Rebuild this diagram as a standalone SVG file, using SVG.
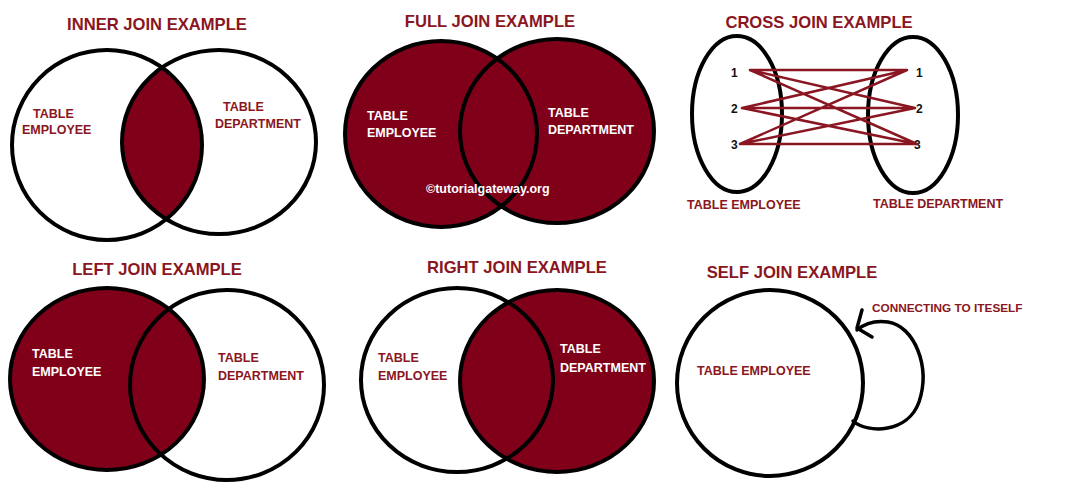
<svg xmlns="http://www.w3.org/2000/svg" width="1069" height="490" viewBox="0 0 1069 490">
<style>
.title{font-family:"Liberation Sans",Arial,sans-serif;font-weight:bold;font-size:16.6px;fill:#8a1622}
.lbl{font-family:"Liberation Sans",Arial,sans-serif;font-weight:bold;font-size:12.5px;fill:#8a1622}
.wl{font-family:"Liberation Sans",Arial,sans-serif;font-weight:bold;font-size:12.5px;fill:#ffffff}
.small{font-size:11.8px}
.num{font-family:"Liberation Sans",Arial,sans-serif;font-weight:bold;font-size:12px;fill:#111}
.ring{fill:none;stroke:#000;stroke-width:4}
.red{fill:#80001a}
.white{fill:#fff}
.conn{fill:none;stroke:#8a1622;stroke-width:2.5;stroke-linecap:round}
.loop{fill:none;stroke:#000;stroke-width:3.5;stroke-linecap:round;stroke-linejoin:round}
</style>
<defs>
<clipPath id="cInnerL"><ellipse cx="107" cy="145" rx="95" ry="95"/></clipPath>
</defs>
<rect width="1069" height="490" fill="#fff"/>

<g id="inner-join">
<text class="title" x="157" y="30" text-anchor="middle">INNER JOIN EXAMPLE</text>
<ellipse class="white" cx="107" cy="145" rx="95" ry="95"/>
<ellipse class="white" cx="219" cy="142" rx="97" ry="92"/>
<ellipse class="red" cx="219" cy="142" rx="97" ry="92" clip-path="url(#cInnerL)"/>
<ellipse class="ring" cx="107" cy="145" rx="95" ry="95"/>
<ellipse class="ring" cx="219" cy="142" rx="97" ry="92"/>
<text class="lbl" x="33" y="118">TABLE</text>
<text class="lbl" x="22" y="134">EMPLOYEE</text>
<text class="lbl" x="223" y="111">TABLE</text>
<text class="lbl" x="215" y="128">DEPARTMENT</text>
</g>

<g id="full-join">
<text class="title" x="490" y="27" text-anchor="middle">FULL JOIN EXAMPLE</text>
<ellipse class="red" cx="441" cy="134" rx="96" ry="93"/>
<ellipse class="red" cx="557" cy="131" rx="97" ry="92"/>
<ellipse class="ring" cx="441" cy="134" rx="96" ry="93"/>
<ellipse class="ring" cx="557" cy="131" rx="97" ry="92"/>
<text class="wl" x="367" y="120">TABLE</text>
<text class="wl" x="367" y="137">EMPLOYEE</text>
<text class="wl" x="548" y="117">TABLE</text>
<text class="wl" x="548" y="134">DEPARTMENT</text>
<text class="wl" x="426" y="193">©tutorialgateway.org</text>
</g>

<g id="cross-join">
<text class="title" x="819" y="28" text-anchor="middle">CROSS JOIN EXAMPLE</text>
<ellipse class="ring" cx="737" cy="114" rx="45" ry="78"/>
<ellipse class="ring" cx="913" cy="115" rx="45" ry="78"/>
<text class="num" x="731" y="77">1</text>
<text class="num" x="731" y="113">2</text>
<text class="num" x="731" y="149">3</text>
<text class="num" x="916" y="77">1</text>
<text class="num" x="916" y="113">2</text>
<text class="num" x="914" y="149">3</text>
<text class="lbl" x="687" y="209">TABLE EMPLOYEE</text>
<text class="lbl" x="873" y="208">TABLE DEPARTMENT</text>
</g>

<g id="left-join">
<text class="title" x="157" y="275" text-anchor="middle">LEFT JOIN EXAMPLE</text>
<ellipse class="white" cx="227" cy="385" rx="97" ry="95"/>
<ellipse class="red" cx="107" cy="379" rx="97" ry="91"/>
<ellipse class="ring" cx="107" cy="379" rx="97" ry="91"/>
<ellipse class="ring" cx="227" cy="385" rx="97" ry="95"/>
<text class="wl" x="32" y="358">TABLE</text>
<text class="wl" x="32" y="376">EMPLOYEE</text>
<text class="lbl" x="218" y="362">TABLE</text>
<text class="lbl" x="218" y="380">DEPARTMENT</text>
</g>

<g id="right-join">
<text class="title" x="517" y="273" text-anchor="middle">RIGHT JOIN EXAMPLE</text>
<ellipse class="white" cx="457" cy="380" rx="96" ry="92"/>
<ellipse class="red" cx="557" cy="381" rx="97" ry="91"/>
<ellipse class="ring" cx="457" cy="380" rx="96" ry="92"/>
<ellipse class="ring" cx="557" cy="381" rx="97" ry="91"/>
<text class="lbl" x="378" y="362">TABLE</text>
<text class="lbl" x="378" y="380">EMPLOYEE</text>
<text class="wl" x="560" y="353">TABLE</text>
<text class="wl" x="560" y="372">DEPARTMENT</text>
</g>

<g id="self-join">
<text class="title" x="792" y="278" text-anchor="middle">SELF JOIN EXAMPLE</text>
<ellipse class="ring" cx="770" cy="383" rx="93" ry="93"/>
<text class="lbl" x="697" y="375">TABLE EMPLOYEE</text>
<text class="lbl small" x="872" y="312">CONNECTING TO ITESELF</text>
</g>

<g id="connectors">
<path class="conn" d="M750 70 L907 70 M750 70 L915 108 M750 70 L917 144 M742 108 L907 70 M742 108 L915 108 M742 108 L917 144 M740 144 L907 70 M740 144 L915 108 M740 144 L917 144"/>
<path class="loop" d="M853 421 C868 434 908 433 919 402 C931 366 914 326 888 322 C874 320 863 325 857 330"/>
<path class="loop" d="M862 310 L857 328 L872 337"/>
</g>
</svg>
